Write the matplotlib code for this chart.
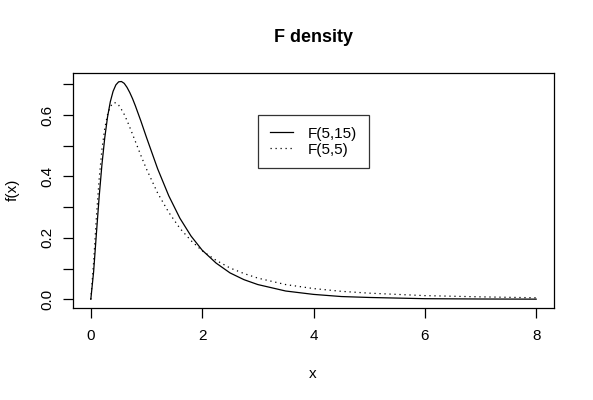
import numpy as np
import matplotlib
matplotlib.use('Agg')
import matplotlib.pyplot as plt

plt.rcParams['font.family'] = ['Liberation Sans', 'DejaVu Sans']

# values
x = [0, 0.05, 0.1, 0.15, 0.2, 0.25, 0.3, 0.35, 0.4, 0.45, 0.5, 0.55, 0.6, 0.65, 0.7,
     0.75, 0.8, 0.9, 1.0, 1.2, 1.4, 1.6, 1.8,
     2.0, 2.25, 2.5, 2.75, 3.0, 3.5, 4.0, 4.5, 5.0, 6.0, 7.0, 8.0]
f_5_15 = [0, 0.089, 0.213, 0.334, 0.439, 0.525, 0.593, 0.643, 0.677, 0.698, 0.708,
          0.709, 0.703, 0.690, 0.673, 0.653, 0.630, 0.580, 0.527,
          0.425, 0.337, 0.264, 0.206, 0.160, 0.118, 0.086, 0.064, 0.048, 0.027,
          0.016, 0.009, 0.006, 0.002, 0.001, 0.0005]
f_5_5 = [0, 0.119, 0.267, 0.392, 0.488, 0.556, 0.601, 0.627, 0.639, 0.640, 0.632,
         0.618, 0.602, 0.582, 0.560, 0.537, 0.514, 0.468, 0.424,
         0.346, 0.283, 0.231, 0.191, 0.158, 0.127, 0.102, 0.084, 0.069, 0.048,
         0.035, 0.026, 0.020, 0.012, 0.008, 0.005]
labels = ['F(5,15)', 'F(5,5)']

fs = 11

fig = plt.figure(figsize=(5.93, 4.0), dpi=100)
fig.set_facecolor('white')
ax = fig.add_axes([73/593, 1-308/400, 481/593, 235/400])

ax.plot(x, f_5_15, color='black', lw=0.9, label=labels[0])
ax.plot(x, f_5_5, color='black', lw=0.9, ls=(0, (1, 3)), label=labels[1])

ax.set_xlim(-0.32, 8.32)
ax.set_ylim(-0.0283, 0.7367)
ax.set_xticks([0, 2, 4, 6, 8])
yt = [0, 0.1, 0.2, 0.3, 0.4, 0.5, 0.6, 0.7]
ax.set_yticks(yt)
ax.set_yticklabels(['0.0', '', '0.2', '', '0.4', '', '0.6', ''], rotation=90, va='center')

for s in ax.spines.values():
    s.set_linewidth(0.9)
ax.tick_params(axis='both', length=7.2, width=0.9, labelsize=fs, direction='out')
ax.tick_params(axis='x', pad=8)
ax.tick_params(axis='y', pad=6)

fig.text(313/593, 1-374/400, 'x', ha='center', va='center', fontsize=fs)
fig.text(13/593, 1-190/400, 'f(x)', ha='center', va='center', fontsize=fs, rotation=90)
fig.text(313/593, 1-38/400, 'F density', ha='center', va='center',
         fontsize=13, fontweight='bold')

leg = ax.legend(loc='upper left', bbox_to_anchor=(0.385, 0.821), borderaxespad=0,
                fancybox=False, edgecolor='black', fontsize=fs, handlelength=1.5,
                borderpad=0.75, labelspacing=0.15, handletextpad=1.0)
leg.get_frame().set_linewidth(0.9)

plt.savefig('out.png', dpi=100)
